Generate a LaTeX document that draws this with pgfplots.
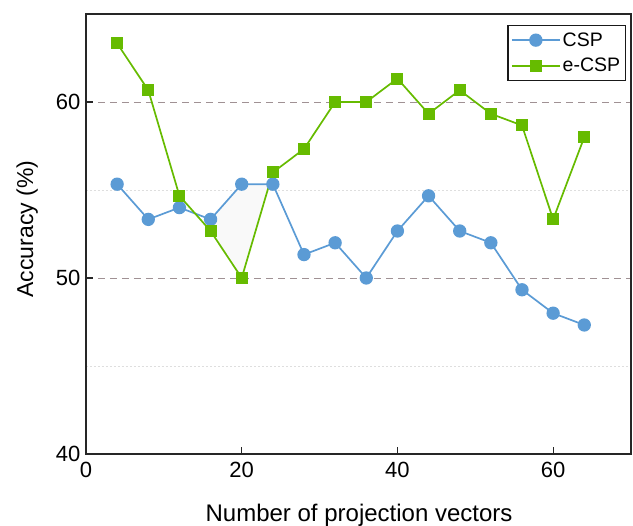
\documentclass[border=0pt]{standalone}
\usepackage{pgfplots}
\pgfplotsset{compat=1.18}
\usepgfplotslibrary{fillbetween}
\usepackage{fontspec}
\setmainfont{Liberation Sans}
\definecolor{cspblue}{RGB}{91,155,213}
\definecolor{cspgreen}{RGB}{102,187,0}
\definecolor{gridmaj}{RGB}{160,145,148}
\definecolor{gridmin}{RGB}{222,222,222}
\begin{document}
\begin{tikzpicture}
\begin{axis}[
  at={(0pt,0pt)}, anchor=south west,
  scale only axis,
  width=545pt, height=440pt,
  xmin=0, xmax=70, ymin=40, ymax=65,
  xtick={0,20,40,60}, ytick={40,50,60},
  minor ytick={45,55},
  tick align=inside,
  major tick length=7pt,
  minor tick length=0pt,
  xtick pos=bottom, ytick pos=left,
  axis line style={line width=1.6pt, black!85},
  tick style={line width=1.2pt, black!85},
  ymajorgrids, yminorgrids,
  major grid style={dash pattern=on 7pt off 5pt, line width=0.9pt, gridmaj},
  minor grid style={dash pattern=on 2pt off 2pt, line width=0.7pt, gridmin},
  /pgf/number format/assume math mode=true,
  ticklabel style={font=\fontsize{22}{26}\selectfont},
  yticklabel style={xshift=-2pt},
  xticklabel style={yshift=-5pt},
  xlabel={Number of projection vectors},
  ylabel={Accuracy (\%)},
  xlabel style={font=\fontsize{24}{28}\selectfont, at={(axis description cs:0.501,-0.15386)}, anchor=base},
  ylabel style={font=\fontsize{23}{27}\selectfont, at={(axis description cs:-0.09725,0.511)}, anchor=base},
  legend style={at={(0.9903,0.975)}, anchor=north east, draw=black!90, line width=1.2pt,
    font=\fontsize{19.5}{23}\selectfont, inner xsep=3pt, inner ysep=5pt, row sep=6.5pt,
    nodes={inner sep=2pt},
    legend cell align=left},
  legend image code/.code={%
    \draw[#1, line width=1.6pt] (0pt,0pt) -- (48pt,0pt);
    \draw[#1, only marks] plot coordinates {(24pt,0pt)};},
]
\addplot[name path=csp, color=cspblue, line width=1.7pt, mark=*, mark size=5.8pt, mark options={fill=cspblue, draw=cspblue}]
coordinates {(4,55.33)(8,53.33)(12,54.0)(16,53.33)(20,55.33)(24,55.33)(28,51.33)(32,52.0)(36,50.0)(40,52.67)(44,54.67)(48,52.67)(52,52.0)(56,49.33)(60,48.0)(64,47.33)};
\addlegendentry{CSP}
\addplot[name path=ecsp, color=cspgreen, line width=1.7pt, mark=square*, mark size=5.2pt, mark options={fill=cspgreen, draw=cspgreen}]
coordinates {(4,63.33)(8,60.67)(12,54.67)(16,52.67)(20,50.0)(24,56.0)(28,57.33)(32,60.0)(36,60.0)(40,61.33)(44,59.33)(48,60.67)(52,59.33)(56,58.67)(60,53.33)(64,58.0)};
\addlegendentry{e-CSP}
\addplot[fill=gray!5, draw=none, forget plot] fill between[of=csp and ecsp, soft clip={domain=16:23.8}];
\end{axis}
\pgfresetboundingbox
\path (-86pt,-72pt) rectangle (547pt,454pt);
\end{tikzpicture}
\end{document}
